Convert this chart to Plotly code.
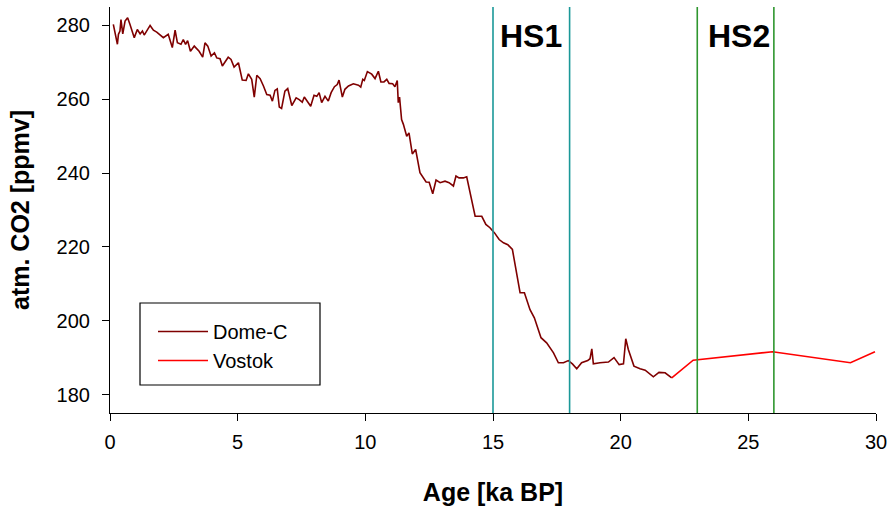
import plotly.graph_objects as go

# Dome-C CO2 record (age in ka BP, CO2 in ppmv)
dome_age = [0.13, 0.29, 0.33, 0.39, 0.43, 0.50, 0.59, 0.69, 0.78, 0.95, 1.07, 1.18, 1.27, 1.34,
            1.57, 1.70, 1.83, 2.09, 2.28, 2.44, 2.55, 2.64, 2.78, 2.87, 2.96, 3.04, 3.15, 3.30,
            3.49, 3.63, 3.72, 3.83, 3.96, 4.09, 4.18, 4.31, 4.40, 4.50, 4.63, 4.74, 4.86, 5.03,
            5.09, 5.18,
            5.33, 5.42, 5.55, 5.65, 5.75, 5.88, 6.01, 6.14, 6.27, 6.36, 6.46, 6.55, 6.63, 6.72,
            6.85, 6.96, 7.12, 7.29, 7.41, 7.53, 7.61, 7.74, 7.86, 7.99, 8.10, 8.19, 8.29, 8.42,
            8.55, 8.66, 8.79, 8.90, 8.97, 9.10, 9.20, 9.34, 9.53, 9.73, 9.82, 9.90, 9.96, 10.08,
            10.25, 10.38, 10.51, 10.61, 10.73, 10.84, 10.93, 11.07, 11.16,
            11.25, 11.29, 11.34, 11.42, 11.49, 11.62, 11.71, 11.84, 11.97, 12.14, 12.38, 12.50,
            12.64, 12.77, 12.93, 13.12, 13.28, 13.45, 13.55, 13.67, 13.84, 13.97, 14.30, 14.56,
            14.72, 14.88, 15.06, 15.24, 15.41, 15.58, 15.76, 16.06, 16.23, 16.45, 16.62, 16.88,
            17.10, 17.37, 17.56,
            17.76, 17.95, 18.11, 18.28, 18.47, 18.71, 18.80, 18.87, 18.93, 19.19, 19.52, 19.74,
            19.94, 20.11, 20.20, 20.30, 20.52, 20.76, 20.96, 21.28, 21.50, 21.74, 22.00]
dome_co2 = [280.3, 274.9, 277.6, 278.5, 281.6, 277.7, 281.2, 282.1, 280.3, 276.7, 278.9, 277.7, 278.5, 277.4,
            280.0, 278.7, 278.2, 276.7, 277.6, 274.0, 278.7, 275.3, 274.9, 276.2, 274.9, 275.9, 273.0, 274.4,
            273.0, 271.4, 275.3, 274.4, 271.7, 272.6, 271.2, 271.0, 269.0, 269.9, 271.4, 270.8, 268.7, 269.9,
            268.1, 265.2,
            265.1, 266.9, 265.4, 260.6, 266.5, 265.6, 263.6, 261.3, 261.1, 259.5, 262.4, 262.8, 257.9, 257.5,
            262.2, 262.9, 258.3, 260.4, 259.9, 259.2, 260.6, 259.3, 258.1, 261.1, 260.8, 261.8, 259.1, 260.8,
            259.5, 261.8, 263.4, 264.0, 265.2, 260.6, 262.7, 263.6, 264.2, 263.8, 263.3, 265.4, 265.1, 267.5,
            266.8, 265.6, 267.6, 264.7, 264.7, 265.4, 264.3, 264.2, 263.4,
            265.1, 259.1, 260.6, 254.5, 253.2, 250.0, 250.9, 245.2, 246.4, 240.1, 237.6, 237.5,
            234.4, 238.1, 237.4, 237.8, 237.4, 236.5, 239.2, 238.7, 238.7, 239.0, 228.3, 228.3,
            226.1, 225.2, 223.8, 222.0, 221.1, 220.6, 219.3, 207.6, 207.6, 203.0, 200.8, 195.4,
            194.0, 191.3, 188.6,
            188.6, 189.2, 188.3, 187.0, 188.6, 189.2, 189.7, 192.4, 188.3, 188.6, 188.8, 190.0,
            188.1, 188.3, 195.1, 192.2, 187.7, 187.0, 186.6, 184.8, 186.0, 185.9, 184.5]

# Vostok CO2 record
vostok_age = [22.00, 22.84, 25.95, 29.00, 29.96]
vostok_co2 = [184.5, 189.3, 191.6, 188.6, 191.6]

# Heinrich stadials
hs_names = ["HS1", "HS2"]
hs_bounds = [(15.0, 18.0), (23.0, 26.0)]
hs_label_x = [16.5, 24.65]
hs_colors = ["#1a9898", "#2f962f"]

x_ticks = [0, 5, 10, 15, 20, 25, 30]
y_ticks = [180, 200, 220, 240, 260, 280]

FONT = "Liberation Sans, Arial, sans-serif"

fig = go.Figure()
fig.add_trace(go.Scatter(x=dome_age, y=dome_co2, mode="lines", name="Dome-C",
                         line=dict(color="#7f0000", width=1.6)))
fig.add_trace(go.Scatter(x=vostok_age, y=vostok_co2, mode="lines", name="Vostok",
                         line=dict(color="#ff0000", width=1.6)))

for (a, b), col in zip(hs_bounds, hs_colors):
    for xv in (a, b):
        fig.add_shape(type="line", x0=xv, x1=xv, y0=0, y1=1, xref="x", yref="paper",
                      line=dict(color=col, width=1.6))

for name, xl in zip(hs_names, hs_label_x):
    fig.add_annotation(x=xl, y=0.929, xref="x", yref="paper", text="<b>%s</b>" % name,
                       showarrow=False, xanchor="center", yanchor="middle",
                       font=dict(size=32, color="black", family=FONT))

# legend frame (plot area: x 110..876 px, y 7..413 px)
fig.add_shape(type="rect", xref="paper", yref="paper",
              x0=(140 - 110) / 766, x1=(320 - 110) / 766,
              y0=(413 - 385) / 406, y1=(413 - 303) / 406,
              line=dict(color="black", width=1.2), fillcolor="rgba(0,0,0,0)", layer="above")

axis_font = dict(family=FONT, size=20, color="black")
title_font = dict(family=FONT, size=25, color="black")

fig.update_layout(
    width=889, height=506,
    margin=dict(l=110, r=13, t=7, b=93, autoexpand=False),
    plot_bgcolor="white", paper_bgcolor="white",
    showlegend=True,
    legend=dict(x=(153 - 110) / 766, y=(413 - 312) / 406, xanchor="left", yanchor="top",
                borderwidth=0, bgcolor="rgba(255,255,255,0)",
                font=dict(family=FONT, size=20, color="black"),
                tracegroupgap=0, itemwidth=50),
    xaxis=dict(range=[0, 30], tickvals=x_ticks, ticks="outside", ticklen=7, tickwidth=1.2,
               tickcolor="black", showline=True, linecolor="black", linewidth=1.2,
               showgrid=False, zeroline=False, tickfont=axis_font, automargin=False,
               ticklabelstandoff=4,
               title=dict(text="<b>Age [ka BP]</b>", font=title_font, standoff=34)),
    yaxis=dict(range=[175, 285], tickvals=y_ticks, ticks="outside", ticklen=7, tickwidth=1.2,
               tickcolor="black", showline=True, linecolor="black", linewidth=1.2,
               showgrid=False, zeroline=False, tickfont=axis_font, automargin=False,
               ticklabelstandoff=8,
               title=dict(text="<b>atm. CO2 [ppmv]</b>", font=title_font, standoff=19)),
)

fig.write_html("out.html")
